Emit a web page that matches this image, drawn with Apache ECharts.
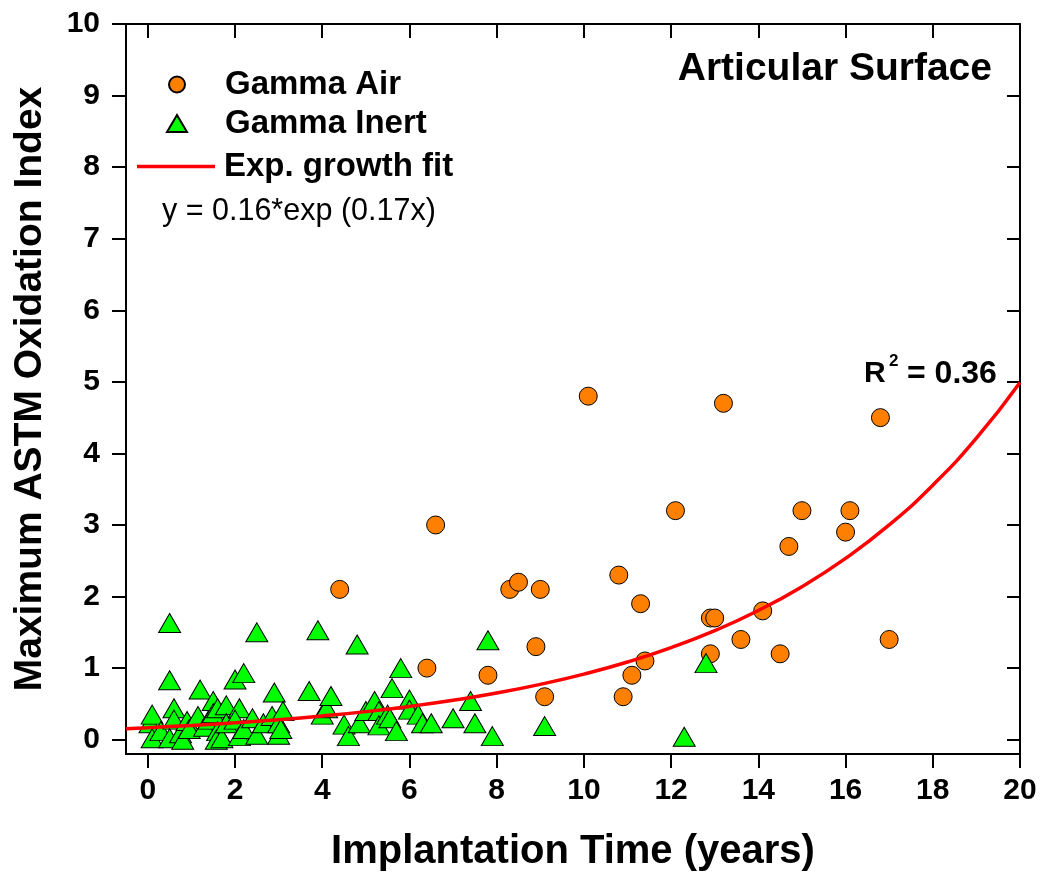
<!DOCTYPE html>
<html><head><meta charset="utf-8">
<script src="https://cdn.jsdelivr.net/npm/echarts@6/dist/echarts.min.js"></script>
<style>html,body{margin:0;padding:0;background:#fff}#c{width:1050px;height:882px}</style>
</head><body><div id="c"></div>
<script>
const xTicks = [0, 2, 4, 6, 8, 10, 12, 14, 16, 18, 20];
const yTicks = [0, 1, 2, 3, 4, 5, 6, 7, 8, 9, 10];
const gammaAir = [
  [4.4, 2.1], [6.4, 1.0], [6.6, 3.0], [7.8, 0.9], [8.3, 2.1], [8.5, 2.2], [9.0, 2.1],
  [8.9, 1.3], [9.1, 0.6], [10.1, 4.8], [10.8, 2.3], [10.9, 0.6], [11.1, 0.9], [11.3, 1.9],
  [11.4, 1.1], [12.1, 3.2], [12.9, 1.2], [12.9, 1.7], [13.0, 1.7], [13.2, 4.7], [13.6, 1.4],
  [14.1, 1.8], [14.5, 1.2], [14.7, 2.7], [15.0, 3.2], [16.0, 2.9], [16.1, 3.2], [16.8, 4.5],
  [17.0, 1.4]
];
const gammaInert = [
  [0.05, 0.23], [0.1, 0.35], [0.1, 0.02], [0.3, 0.12], [0.5, 1.63], [0.5, 0.83], [0.6, 0.44],
  [0.6, 0.28], [0.5, 0.02], [0.75, 0.09], [0.8, 0.0], [0.9, 0.26], [0.95, 0.15], [1.15, 0.33],
  [1.2, 0.70], [1.3, 0.18], [1.4, 0.28], [1.5, 0.54], [1.5, 0.37], [1.6, 0.44], [1.6, 0.12],
  [1.57, 0.0], [1.7, 0.02], [1.8, 0.48], [1.8, 0.23], [2.0, 0.84], [2.2, 0.93], [2.1, 0.44],
  [2.0, 0.28], [2.1, 0.05], [2.2, 0.15], [2.4, 0.30], [2.5, 1.50], [2.5, 0.07], [2.65, 0.23],
  [2.85, 0.33], [2.9, 0.66], [3.0, 0.23], [3.0, 0.07], [3.1, 0.40], [3.05, 0.15], [3.7, 0.68],
  [3.9, 1.53], [4.0, 0.35], [4.1, 0.44], [4.2, 0.61], [4.5, 0.21], [4.6, 0.05], [4.8, 1.33],
  [4.85, 0.23], [5.0, 0.40], [5.2, 0.54], [5.3, 0.40], [5.3, 0.20], [5.5, 0.35], [5.55, 0.30],
  [5.6, 0.72], [5.7, 0.12], [5.8, 1.00], [6.0, 0.56], [6.0, 0.42], [6.2, 0.35], [6.3, 0.23],
  [6.5, 0.23], [7.0, 0.30], [7.4, 0.54], [7.5, 0.23], [7.8, 1.39], [7.9, 0.05], [9.1, 0.19],
  [12.3, 0.04], [12.8, 1.07]
];
const fitX = [-0.5, 0, 1, 2, 3, 4, 5, 6, 7, 8, 9, 10, 11, 12, 13, 14, 15, 16, 17, 18, 19, 20];
const fitY = [0.154, 0.168, 0.199, 0.236, 0.279, 0.331, 0.392, 0.465, 0.551, 0.652, 0.773,
  0.916, 1.085, 1.286, 1.523, 1.805, 2.138, 2.533, 3.001, 3.556, 4.213, 4.992];

const FONT = '"Liberation Sans", Arial, sans-serif';
const fitData = fitX.map((x, i) => [x, fitY[i]]);

const chart = echarts.init(document.getElementById('c'), null, {renderer: 'canvas'});

const axisLine = {show: true, onZero: false, lineStyle: {color: '#000', width: 2}};
const tickStyle = {color: '#000', width: 2};
const legendText = {fontSize: 33, fontWeight: 'bold', color: '#000', fontFamily: FONT};

chart.setOption({
  animation: false,
  backgroundColor: '#fff',
  grid: {left: 126, right: 30, top: 24, bottom: 128, containLabel: false, outerBoundsMode: 'none'},
  xAxis: [{
    type: 'value', min: -0.5, max: 20, position: 'bottom',
    axisLine: axisLine,
    axisTick: {show: true, inside: false, length: 14, lineStyle: tickStyle, customValues: xTicks},
    axisLabel: {show: true, margin: 22, fontSize: 30, fontWeight: 'bold', color: '#000', fontFamily: FONT, customValues: xTicks},
    splitLine: {show: false},
    name: 'Implantation Time (years)', nameLocation: 'middle', nameGap: 78,
    nameTextStyle: {fontSize: 40, fontWeight: 'bold', color: '#000', fontFamily: FONT}
  }, {
    type: 'value', min: -0.5, max: 20, position: 'top',
    axisLine: axisLine,
    axisTick: {show: true, inside: true, length: 14, lineStyle: tickStyle, customValues: xTicks},
    axisLabel: {show: false},
    splitLine: {show: false}
  }],
  yAxis: [{
    type: 'value', min: -0.2, max: 10, position: 'left',
    axisLine: axisLine,
    axisTick: {show: true, inside: false, length: 14, lineStyle: tickStyle, customValues: yTicks},
    axisLabel: {show: true, margin: 26, fontSize: 30, fontWeight: 'bold', color: '#000', fontFamily: FONT, customValues: yTicks},
    splitLine: {show: false},
    name: 'Maximum ASTM Oxidation Index', nameLocation: 'middle', nameGap: 76,
    nameTextStyle: {fontSize: 39, fontWeight: 'bold', color: '#000', fontFamily: FONT}
  }, {
    type: 'value', min: -0.2, max: 10, position: 'right',
    axisLine: axisLine,
    axisTick: {show: true, inside: true, length: 13, lineStyle: tickStyle, customValues: yTicks},
    axisLabel: {show: false},
    splitLine: {show: false}
  }],
  legend: [{
    data: ['Gamma Air'], orient: 'vertical', left: 168, top: 68, padding: 0,
    itemWidth: 16, itemHeight: 16,
    textStyle: Object.assign({padding: [0, 0, 0, 35]}, legendText)
  }, {
    data: ['Gamma Inert'], orient: 'vertical', left: 166, top: 107, padding: 0,
    itemWidth: 20, itemHeight: 17,
    textStyle: Object.assign({padding: [0, 0, 0, 33]}, legendText)
  }, {
    data: [{name: 'Exp. growth fit', icon: 'rect'}], orient: 'vertical', left: 137, top: 150, padding: 0,
    itemWidth: 78, itemHeight: 3.5,
    itemStyle: {color: '#FF0000', borderWidth: 0},
    textStyle: Object.assign({padding: [0, 0, 0, 4]}, legendText)
  }],
  graphic: [{
    type: 'text', x: 162, y: 212,
    style: {text: 'y = 0.16*exp (0.17x)', font: '30.5px ' + FONT, fill: '#000', textAlign: 'left', textVerticalAlign: 'middle'}
  }, {
    type: 'text', x: 992, y: 69,
    style: {text: 'Articular Surface', font: 'bold 39px ' + FONT, fill: '#000', textAlign: 'right', textVerticalAlign: 'middle'}
  }, {
    type: 'text', x: 864, y: 374,
    style: {text: 'R', font: 'bold 30px ' + FONT, fill: '#000', textAlign: 'left', textVerticalAlign: 'middle'}
  }, {
    type: 'text', x: 889, y: 361,
    style: {text: '2', font: 'bold 17px ' + FONT, fill: '#000', textAlign: 'left', textVerticalAlign: 'middle'}
  }, {
    type: 'text', x: 907, y: 374,
    style: {text: '= 0.36', font: 'bold 32px ' + FONT, fill: '#000', textAlign: 'left', textVerticalAlign: 'middle'}
  }],
  series: [{
    name: 'Gamma Air', type: 'scatter', data: gammaAir, symbol: 'circle', symbolSize: 18,
    itemStyle: {color: '#FF8000', borderColor: '#000', borderWidth: 1, opacity: 1}, z: 2
  }, {
    name: 'Gamma Inert', type: 'scatter', data: gammaInert, symbol: 'triangle', symbolSize: [22, 19],
    itemStyle: {color: '#00FF00', borderColor: '#000', borderWidth: 1, opacity: 1}, z: 3
  }, {
    name: 'Exp. growth fit', type: 'line', data: fitData, smooth: true, symbol: 'none', showSymbol: false,
    lineStyle: {color: '#FF0000', width: 3.5}, itemStyle: {color: '#FF0000'}, z: 4
  }]
});
</script>
</body></html>
